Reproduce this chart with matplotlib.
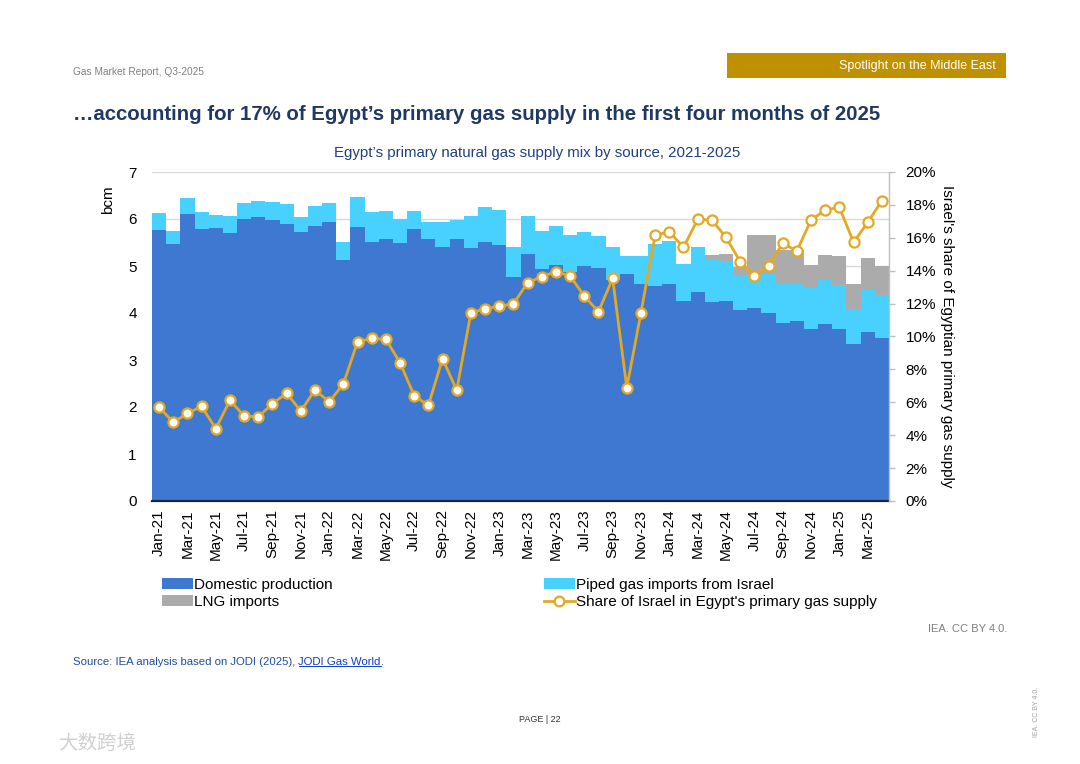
import numpy as np
import matplotlib
matplotlib.use('Agg')
import matplotlib.pyplot as plt
from matplotlib import font_manager
from matplotlib.patches import Patch, Rectangle
from matplotlib.lines import Line2D
from matplotlib.ticker import PercentFormatter, MultipleLocator

# fonts
names = {f.name for f in font_manager.fontManager.ttflist}
narrow = 'Liberation Sans Narrow' if 'Liberation Sans Narrow' in names else 'Liberation Sans'
plt.rcParams['font.family'] = ['Liberation Sans', 'DejaVu Sans']

# data (bcm per month, Jan-21 .. Apr-25)
years = ['21', '22', '23', '24', '25']
month_names = ['Jan', 'Feb', 'Mar', 'Apr', 'May', 'Jun', 'Jul', 'Aug', 'Sep', 'Oct', 'Nov', 'Dec']
months = [f'{m}-{y}' for y in years for m in month_names][:52]

domestic = [5.77, 5.46, 6.11, 5.79, 5.80, 5.71, 5.99, 6.05, 5.97, 5.90, 5.73, 5.85,
            5.93, 5.13, 5.83, 5.52, 5.57, 5.48, 5.78, 5.57, 5.41, 5.57, 5.38, 5.52,
            5.45, 4.76, 5.25, 4.94, 5.02, 4.88, 5.00, 4.96, 4.70, 4.83, 4.61, 4.57,
            4.61, 4.26, 4.45, 4.23, 4.26, 4.06, 4.10, 3.99, 3.78, 3.82, 3.66, 3.76,
            3.65, 3.33, 3.60, 3.46]
israel = [0.35, 0.28, 0.34, 0.35, 0.29, 0.36, 0.34, 0.34, 0.39, 0.42, 0.32, 0.43,
          0.40, 0.38, 0.64, 0.62, 0.61, 0.51, 0.40, 0.37, 0.52, 0.41, 0.68, 0.73,
          0.74, 0.65, 0.82, 0.80, 0.84, 0.79, 0.73, 0.67, 0.70, 0.38, 0.60, 0.89,
          0.92, 0.78, 0.95, 0.91, 0.85, 0.73, 0.71, 0.85, 0.85, 0.81, 0.88, 0.94,
          0.95, 0.73, 0.89, 0.92]
lng = [0, 0, 0, 0, 0, 0, 0, 0, 0, 0, 0, 0,
       0, 0, 0, 0, 0, 0, 0, 0, 0, 0, 0, 0,
       0, 0, 0, 0, 0, 0, 0, 0, 0, 0, 0, 0,
       0, 0, 0, 0.09, 0.15, 0.18, 0.84, 0.83, 0.71, 0.70, 0.48, 0.53,
       0.61, 0.55, 0.69, 0.61]
# share of Israel in Egypt's primary gas supply (%)
share = [5.71, 4.78, 5.33, 5.75, 4.40, 6.12, 5.17, 5.11, 5.92, 6.55, 5.47, 6.75,
         6.02, 7.11, 9.67, 9.89, 9.83, 8.41, 6.40, 5.81, 8.65, 6.73, 11.45, 11.67,
         11.85, 11.98, 13.27, 13.64, 13.94, 13.68, 12.46, 11.51, 13.53, 6.89, 11.45, 16.15,
         16.37, 15.42, 17.12, 17.08, 16.03, 14.55, 13.70, 14.29, 15.66, 15.20, 17.08, 17.69,
         17.85, 15.73, 16.94, 18.26]

c_dom = '#3F78D1'
c_isr = '#48D1FF'
c_lng = '#ABABAB'
c_line = '#E5A823'
navy = '#1F3864'
W, H = 1080, 764

fig = plt.figure(figsize=(W / 100, H / 100), dpi=100)
fig.patch.set_facecolor('white')

ax = fig.add_axes([152 / W, 1 - 501 / H, 737 / W, 329 / H])
x = np.arange(len(months))
dom = np.array(domestic)
isr = np.array(israel)
ax.bar(x, dom, width=1.0, color=c_dom, linewidth=0)
ax.bar(x, isr, width=1.0, bottom=dom, color=c_isr, linewidth=0)
ax.bar(x, lng, width=1.0, bottom=dom + isr, color=c_lng, linewidth=0)

ax.set_xlim(-0.5, len(months) - 0.5)
ax.set_ylim(0, 7)
ax.yaxis.set_major_locator(MultipleLocator(1))
ax.set_axisbelow(True)
ax.yaxis.grid(True, color='#d9d9d9', linewidth=1.0)
for s in ['left', 'top', 'right']:
    ax.spines[s].set_visible(False)
ax.spines['bottom'].set_color('#1a2340')
ax.spines['bottom'].set_linewidth(1.6)
ax.tick_params(axis='y', length=0, pad=11, labelsize=11)
ax.set_xticks(x[::2])
ax.set_xticklabels(months[::2], rotation=90, fontsize=11)
ax.tick_params(axis='x', length=0, pad=6)

# share line on the right axis
ax2 = ax.twinx()
ax2.plot(x, np.array(share) / 100, color=c_line, linewidth=2.0, marker='o', markersize=7.3,
         markerfacecolor='white', markeredgecolor=c_line, markeredgewidth=1.6, clip_on=False)
ax2.set_ylim(0, 0.20)
ax2.yaxis.set_major_locator(MultipleLocator(0.02))
ax2.yaxis.set_major_formatter(PercentFormatter(1.0, decimals=0))
for s in ['left', 'top', 'bottom']:
    ax2.spines[s].set_visible(False)
ax2.spines['right'].set_color('#bfbfbf')
ax2.spines['right'].set_linewidth(1.0)
ax2.tick_params(axis='y', length=4, width=1.0, color='#bfbfbf', pad=8, labelsize=11)

fig.text(108 / W, 1 - 200 / H, 'bcm', rotation=90, ha='center', va='center', fontsize=11)
fig.text(947 / W, 1 - 336 / H, "Israel's share of Egyptian primary gas supply", rotation=270,
         ha='center', va='center', fontsize=11)

# header
fig.text(73 / W, 1 - 72 / H, 'Gas Market Report, Q3-2025', family=narrow, fontsize=7.3,
         color='#808080', va='center')
fig.patches.append(Rectangle((727 / W, 1 - 78 / H), 279 / W, 25 / H, transform=fig.transFigure,
                             facecolor='#BF9000', edgecolor='none'))
fig.text(996 / W, 1 - 66 / H, 'Spotlight on the Middle East', family=narrow, fontsize=9,
         color='white', ha='right', va='center')
fig.text(73 / W, 1 - 114 / H,
         '\u2026accounting for 17% of Egypt\u2019s primary gas supply in the first four months of 2025',
         family=narrow, fontweight='bold', fontsize=14.7, color=navy, va='center')
fig.text(537 / W, 1 - 153 / H, "Egypt\u2019s primary natural gas supply mix by source, 2021-2025",
         fontsize=10.8, color='#1F3F80', ha='center', va='center')

# legend
h_left = [Patch(facecolor=c_dom), Patch(facecolor=c_lng)]
h_right = [Patch(facecolor=c_isr),
           Line2D([], [], color=c_line, linewidth=2.0, marker='o', markersize=7,
                  markerfacecolor='white', markeredgecolor=c_line, markeredgewidth=1.6)]
kw = dict(loc='upper left', frameon=False, fontsize=11, handlelength=2.0, handleheight=0.7,
          handletextpad=0.1, labelspacing=0.2, borderpad=0, borderaxespad=0)
fig.legend(h_left, ['Domestic production', 'LNG imports'],
           bbox_to_anchor=(162 / W, 1 - 578 / H), **kw)
fig.legend(h_right, ['Piped gas imports from Israel', "Share of Israel in Egypt's primary gas supply"],
           bbox_to_anchor=(544 / W, 1 - 578 / H), **kw)

# footer
fig.text(1007 / W, 1 - 629 / H, 'IEA. CC BY 4.0.', family=narrow, fontsize=8, color='#7f7f7f',
         ha='right', va='center')
t = fig.text(73 / W, 1 - 662 / H, 'Source: IEA analysis based on JODI (2025), ', family=narrow,
             fontsize=8.2, color='#1F4E9E', va='center')
fig.canvas.draw()
bb = t.get_window_extent()
t2 = fig.text(bb.x1 / W, 1 - 662 / H, 'JODI Gas World', family=narrow, fontsize=8.2, color='#0b3fcc',
              va='center')
fig.canvas.draw()
bb2 = t2.get_window_extent()
fig.add_artist(Line2D([bb2.x0 / W, bb2.x1 / W], [(bb2.y0 + 1) / H] * 2, color='#0b3fcc',
                      linewidth=0.7, transform=fig.transFigure))
fig.text(bb2.x1 / W, 1 - 662 / H, '.', family=narrow, fontsize=8.2, color='#1F4E9E', va='center')

fig.text(540 / W, 1 - 720 / H, 'PAGE | 22', family=narrow, fontsize=6.5, color='#333333',
         ha='center', va='center')
fig.text(1037 / W, 1 - 712 / H, 'IEA. CC BY 4.0.', family=narrow, fontsize=5, color='#a0a0a0',
         rotation=90, ha='center', va='center')
fig.text(58 / W, 1 - 743 / H, '\u5927\u6570\u8de8\u5883', family=['Noto Sans CJK SC', 'DejaVu Sans'],
         fontsize=14, color='#d0d0d0', va='center')

fig.savefig('out.png', dpi=100)
